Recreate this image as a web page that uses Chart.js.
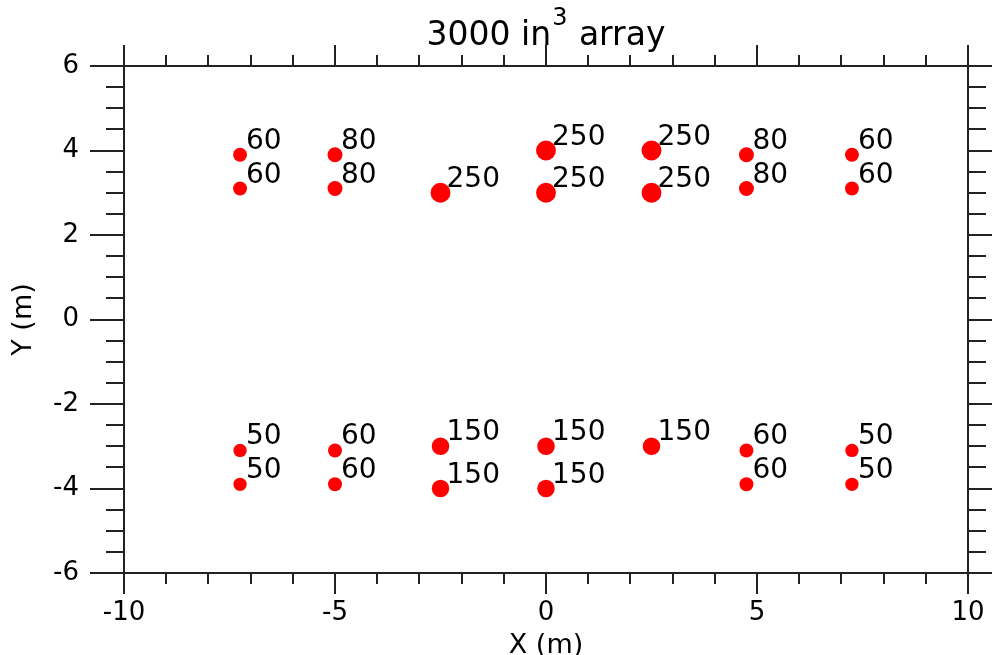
<!DOCTYPE html>
<html>
<head>
<meta charset="utf-8">
<title>3000 in3 array</title>
<script src="https://cdn.jsdelivr.net/npm/chart.js@4.4.1/dist/chart.umd.min.js"></script>
<style>
    html, body { margin: 0; padding: 0; background: #fff; }
    canvas { display: block; }
</style>
</head>
<body>
<canvas id="arrayChart" width="992" height="655"></canvas>
<script>
// gun positions (m) and their volumes (in^3)
const gunX = [-7.25, -7.25, -5, -5, -2.5, 0, 0, 2.5, 2.5, 4.75, 4.75, 7.25, 7.25,
              -7.25, -7.25, -5, -5, -2.5, -2.5, 0, 0, 2.5, 4.75, 4.75, 7.25, 7.25];
const gunY = [3.9, 3.1, 3.9, 3.1, 3.0, 4.0, 3.0, 4.0, 3.0, 3.9, 3.1, 3.9, 3.1,
              -3.1, -3.9, -3.1, -3.9, -3.0, -4.0, -3.0, -4.0, -3.0, -3.1, -3.9, -3.1, -3.9];
const gunVolume = [60, 60, 80, 80, 250, 250, 250, 250, 250, 80, 80, 60, 60,
                   50, 50, 60, 60, 150, 150, 150, 150, 150, 60, 60, 50, 50];

const xRange = [-10, 10];
const yRange = [-6, 6];
const xMajor = 5, xMinor = 1;
const yMajor = 2, yMinor = 0.5;

const FONT = "'DejaVu Sans', 'Liberation Sans', sans-serif";
const INK = "#000";
const AXIS = "#222";

// =========================
// FRAME + TICKS ON ALL SIDES
// =========================
const framePlugin = {
    id: "frame",
    afterDraw(chart) {
        const ctx = chart.ctx;
        const { left, right, top, bottom } = chart.chartArea;
        const xs = chart.scales.x, ys = chart.scales.y;

        ctx.save();
        ctx.strokeStyle = AXIS;
        ctx.lineWidth = 2;
        ctx.strokeRect(left, top, right - left, bottom - top);

        ctx.beginPath();
        for (let v = xRange[0]; v <= xRange[1] + 1e-9; v += xMinor) {
            const px = Math.round(xs.getPixelForValue(v));
            const len = Math.abs(v % xMajor) < 1e-9 ? 21 : 11;
            ctx.moveTo(px, bottom); ctx.lineTo(px, bottom + len);
            ctx.moveTo(px, top); ctx.lineTo(px, top - len);
        }
        for (let v = yRange[0]; v <= yRange[1] + 1e-9; v += yMinor) {
            const py = Math.round(ys.getPixelForValue(v));
            const len = Math.abs(v % yMajor) < 1e-9 ? 34 : 18;
            ctx.moveTo(left, py); ctx.lineTo(left - len, py);
            ctx.moveTo(right, py); ctx.lineTo(right + len, py);
        }
        ctx.stroke();

        // title with superscript
        const cx = (left + right) / 2;
        ctx.fillStyle = INK;
        ctx.textBaseline = "alphabetic";
        ctx.textAlign = "left";
        const big = "33px " + FONT, small = "24px " + FONT;
        ctx.font = big;
        const a = "3000 in", c = " array";
        const wa = ctx.measureText(a).width, wc = ctx.measureText(c).width;
        ctx.font = small;
        const wb = ctx.measureText("3").width;
        let x0 = cx - (wa + wb + wc + 2) / 2;
        ctx.font = big;
        ctx.fillText(a, x0, 45);
        ctx.font = small;
        ctx.fillText("3", x0 + wa + 1, 25);
        ctx.font = big;
        ctx.fillText(c, x0 + wa + wb + 2, 45);
        ctx.restore();
    }
};

// =========================
// VOLUME LABELS NEXT TO EACH GUN
// =========================
const labelPlugin = {
    id: "gunLabels",
    afterDatasetsDraw(chart) {
        const ctx = chart.ctx;
        const meta = chart.getDatasetMeta(0);
        ctx.save();
        ctx.fillStyle = INK;
        ctx.font = "28px " + FONT;
        ctx.textAlign = "left";
        ctx.textBaseline = "alphabetic";
        meta.data.forEach((pt, i) => {
            ctx.fillText(String(gunVolume[i]), pt.x + 6, pt.y - 6);
        });
        ctx.restore();
    }
};

const points = gunX.map((x, i) => ({ x: x, y: gunY[i] }));
const gunRadius = ctx => 2.5 * Math.pow(gunVolume[ctx.dataIndex] || 50, 0.25);

new Chart(document.getElementById("arrayChart"), {
    type: "scatter",
    data: {
        datasets: [{
            data: points,
            backgroundColor: "#ff0000",
            borderWidth: 0,
            pointRadius: gunRadius,
            pointHoverRadius: gunRadius
        }]
    },
    options: {
        responsive: false,
        animation: false,
        layout: { padding: { top: 66, right: 24, left: 0, bottom: 0 } },
        plugins: {
            legend: { display: false },
            tooltip: { enabled: false }
        },
        scales: {
            x: {
                type: "linear",
                min: xRange[0],
                max: xRange[1],
                grid: { display: false },
                border: { display: false },
                ticks: {
                    stepSize: xMajor,
                    padding: 17,
                    color: INK,
                    font: { family: FONT, size: 26 },
                    maxRotation: 0
                },
                title: {
                    display: true,
                    text: "X (m)",
                    color: INK,
                    font: { family: FONT, size: 27 },
                    padding: { top: 0, bottom: -7 }
                },
                afterFit(scale) {
                    scale.height = 82;
                    scale.paddingLeft = 0;
                    scale.paddingRight = 0;
                }
            },
            y: {
                type: "linear",
                min: yRange[0],
                max: yRange[1],
                grid: { display: false },
                border: { display: false },
                ticks: {
                    stepSize: yMajor,
                    padding: 37,
                    color: INK,
                    font: { family: FONT, size: 26 }
                },
                title: {
                    display: true,
                    text: "Y (m)",
                    color: INK,
                    font: { family: FONT, size: 27 },
                    padding: { top: 8, bottom: 0 }
                },
                afterFit(scale) {
                    scale.width = 124;
                    scale.paddingTop = 0;
                    scale.paddingBottom = 0;
                }
            }
        }
    },
    plugins: [labelPlugin, framePlugin]
});
</script>
</body>
</html>
